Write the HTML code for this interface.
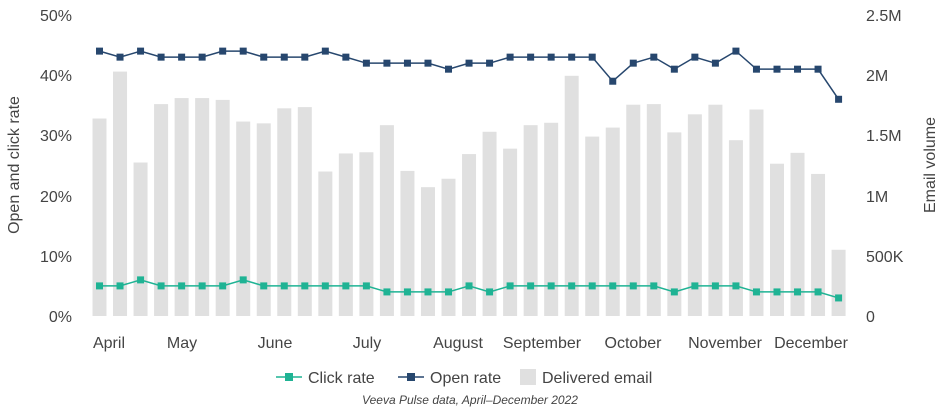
<!DOCTYPE html>
<html><head><meta charset="utf-8"><style>
body{margin:0;background:#fff;}
text{font-family:"Liberation Sans",sans-serif;fill:#444;}
</style></head><body>
<svg width="940" height="412" xmlns="http://www.w3.org/2000/svg">
<g font-size="16">
<text x="72" y="21" text-anchor="end">50%</text>
<text x="72" y="81" text-anchor="end">40%</text>
<text x="72" y="141" text-anchor="end">30%</text>
<text x="72" y="202" text-anchor="end">20%</text>
<text x="72" y="262" text-anchor="end">10%</text>
<text x="72" y="322" text-anchor="end">0%</text>
<text x="866" y="21">2.5M</text>
<text x="866" y="81">2M</text>
<text x="866" y="141">1.5M</text>
<text x="866" y="202">1M</text>
<text x="866" y="262">500K</text>
<text x="866" y="322">0</text>
</g>
<text font-size="16" transform="translate(19,165) rotate(-90)" text-anchor="middle">Open and click rate</text>
<text font-size="16" transform="translate(935,165) rotate(-90)" text-anchor="middle">Email volume</text>
<g id="bars" fill="#e0e0e0"></g>
<polyline id="open" fill="none" stroke="#27476e" stroke-width="1.5"/>
<polyline id="click" fill="none" stroke="#1fb394" stroke-width="1.5"/>
<g id="om" fill="#27476e"></g>
<g id="cm" fill="#1fb394"></g>
<g font-size="16" text-anchor="middle">
<text x="109" y="348">April</text>
<text x="182" y="348">May</text>
<text x="275" y="348">June</text>
<text x="367" y="348">July</text>
<text x="458" y="348">August</text>
<text x="542" y="348">September</text>
<text x="633" y="348">October</text>
<text x="725" y="348">November</text>
<text x="811" y="348">December</text>
</g>
<g font-size="16">
<line x1="276" y1="377" x2="302" y2="377" stroke="#1fb394" stroke-width="1.5"/>
<rect x="285" y="373" width="8" height="8" fill="#1fb394"/>
<text x="308" y="383">Click rate</text>
<line x1="398" y1="377" x2="424" y2="377" stroke="#27476e" stroke-width="1.5"/>
<rect x="407" y="373" width="8" height="8" fill="#27476e"/>
<text x="430" y="383">Open rate</text>
<rect x="520" y="369" width="16" height="16" fill="#e0e0e0"/>
<text x="542" y="383">Delivered email</text>
</g>
<text x="470" y="404" font-size="12" font-style="italic" text-anchor="middle">Veeva Pulse data, April–December 2022</text>
<script>
var bars=[32.8,40.6,25.5,35.2,36.2,36.2,35.9,32.3,32,34.5,34.7,24,27,27.2,31.7,24.1,21.4,22.8,26.9,30.6,27.8,31.7,32.1,39.9,29.8,31.3,35.1,35.2,30.5,33.5,35.1,29.2,34.3,25.3,27.1,23.6,11];
var op=[44,43,44,43,43,43,44,44,43,43,43,44,43,42,42,42,42,41,42,42,43,43,43,43,43,39,42,43,41,43,42,44,41,41,41,41,36];
var cl=[5,5,6,5,5,5,5,6,5,5,5,5,5,5,4,4,4,4,5,4,5,5,5,5,5,5,5,5,4,5,5,5,4,4,4,4,3];
function X(i){return 99.5+i*20.53;}function Y(v){return 316-v*6.02;}
var ns="http://www.w3.org/2000/svg";
function el(t,a,p){var e=document.createElementNS(ns,t);for(var k in a)e.setAttribute(k,a[k]);document.getElementById(p).appendChild(e);}
var po=[],pc=[];
for(var i=0;i<37;i++){
el("rect",{x:X(i)-7,y:Y(bars[i]),width:14,height:bars[i]*6.02},"bars");
po.push(X(i)+","+Y(op[i]));pc.push(X(i)+","+Y(cl[i]));
el("rect",{x:X(i)-3.5,y:Y(op[i])-3.5,width:7,height:7},"om");
el("rect",{x:X(i)-3.5,y:Y(cl[i])-3.5,width:7,height:7},"cm");
}
document.getElementById("open").setAttribute("points",po.join(" "));
document.getElementById("click").setAttribute("points",pc.join(" "));
</script>
</svg>
</body></html>
